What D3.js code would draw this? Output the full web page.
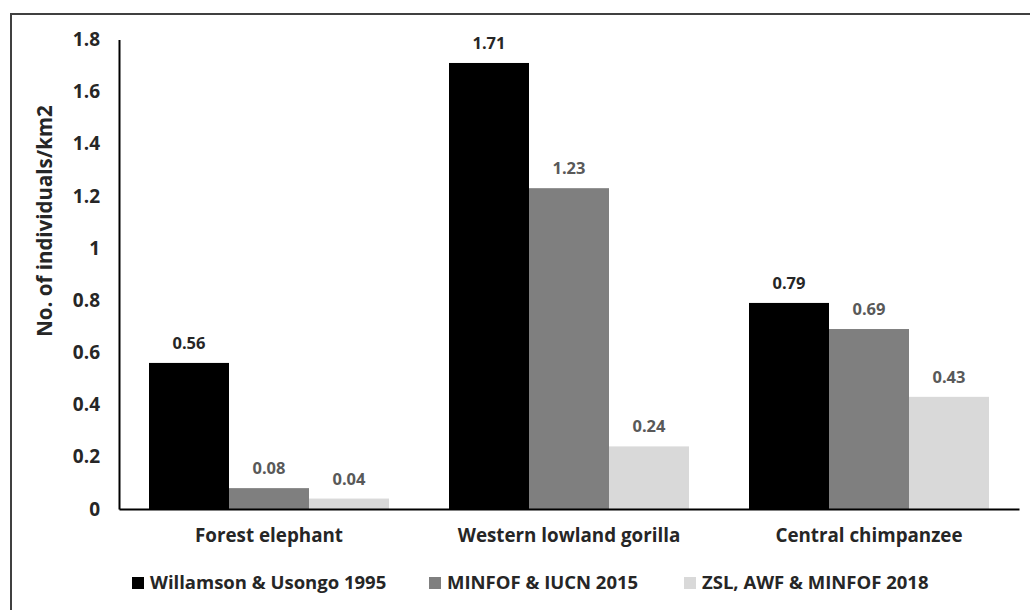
<!DOCTYPE html>
<html><head><meta charset="utf-8">
<script src="https://cdn.jsdelivr.net/npm/d3@7"></script>
<style>body{margin:0;background:#fff}svg{display:block;font-family:"Open Sans",sans-serif}</style>
</head><body>
<svg id="c" width="1030" height="610"></svg>
<script>
const categories = ["Forest elephant", "Western lowland gorilla", "Central chimpanzee"];
const seriesNames = ["Willamson & Usongo 1995", "MINFOF & IUCN 2015", "ZSL, AWF & MINFOF 2018"];
const values1995 = [0.56, 1.71, 0.79];
const values2015 = [0.08, 1.23, 0.69];
const values2018 = [0.04, 0.24, 0.43];
const yTicks = [0, 0.2, 0.4, 0.6, 0.8, 1, 1.2, 1.4, 1.6, 1.8];
const colors = ["#000000", "#7f7f7f", "#d9d9d9"];
const labelColors = ["#262626", "#595959", "#595959"];

const series = [values1995, values2015, values2018];
const svg = d3.select("#c");
const FONT = "'Open Sans',sans-serif";
const m = {left: 119, right: 1019, top: 39.5, bottom: 509};

// frame
svg.append("rect").attr("x", 11).attr("y", 14).attr("width", 1100).attr("height", 700)
  .attr("fill", "none").attr("stroke", "#404040").attr("stroke-width", 2);

const x = d3.scaleBand().domain(categories).range([m.left, m.right]).paddingInner(0.2).paddingOuter(0.1);
const xs = d3.scaleBand().domain(d3.range(3)).range([0, x.bandwidth()]);
const y = d3.scaleLinear().domain([0, 1.8]).range([m.bottom, m.top]);

// bars
series.forEach((vals, si) => {
  const g = svg.append("g");
  g.selectAll("rect").data(vals).join("rect")
    .attr("x", (d, i) => x(categories[i]) + xs(si))
    .attr("y", d => y(d))
    .attr("width", xs.bandwidth())
    .attr("height", d => y(0) - y(d))
    .attr("fill", colors[si]);
  g.selectAll("text").data(vals).join("text")
    .attr("x", (d, i) => x(categories[i]) + xs(si) + xs.bandwidth() / 2)
    .attr("y", d => y(d) - 14)
    .attr("text-anchor", "middle")
    .attr("font-size", 16.5).attr("font-weight", "bold")
    .attr("fill", labelColors[si])
    .text(d => d3.format(".2f")(d));
});

// y axis
const ya = svg.append("g").attr("transform", `translate(${m.left},0)`)
  .call(d3.axisLeft(y).tickValues(yTicks).tickSize(0).tickPadding(19).tickFormat(d => String(+d.toFixed(1))));
ya.select(".domain").attr("stroke", "#000").attr("stroke-width", 2);
ya.selectAll("text").attr("font-size", 19).attr("font-weight", "bold").attr("fill", "#262626")
  .attr("font-family", FONT);

// x axis
const xa = svg.append("g").attr("transform", `translate(0,${m.bottom})`)
  .call(d3.axisBottom(x).tickSize(0).tickPadding(20));
xa.select(".domain").attr("stroke", "#000").attr("stroke-width", 2);
xa.selectAll("text").attr("font-size", 18.8).attr("font-weight", "bold").attr("fill", "#262626")
  .attr("font-family", FONT);

// y title
svg.append("text").attr("transform", "translate(52,221) rotate(-90)")
  .attr("text-anchor", "middle").attr("font-size", 20.5).attr("font-weight", "bold").attr("fill", "#262626")
  .text("No. of individuals/km2");

// legend
const legX = [132, 429, 684];
const lg = svg.append("g");
seriesNames.forEach((n, i) => {
  lg.append("rect").attr("x", legX[i]).attr("y", 577).attr("width", 12).attr("height", 12).attr("fill", colors[i]);
  lg.append("text").attr("x", legX[i] + 18).attr("y", 589).attr("font-size", 18.5).attr("font-weight", "bold")
    .attr("fill", "#262626").text(n);
});
</script>
</body></html>
